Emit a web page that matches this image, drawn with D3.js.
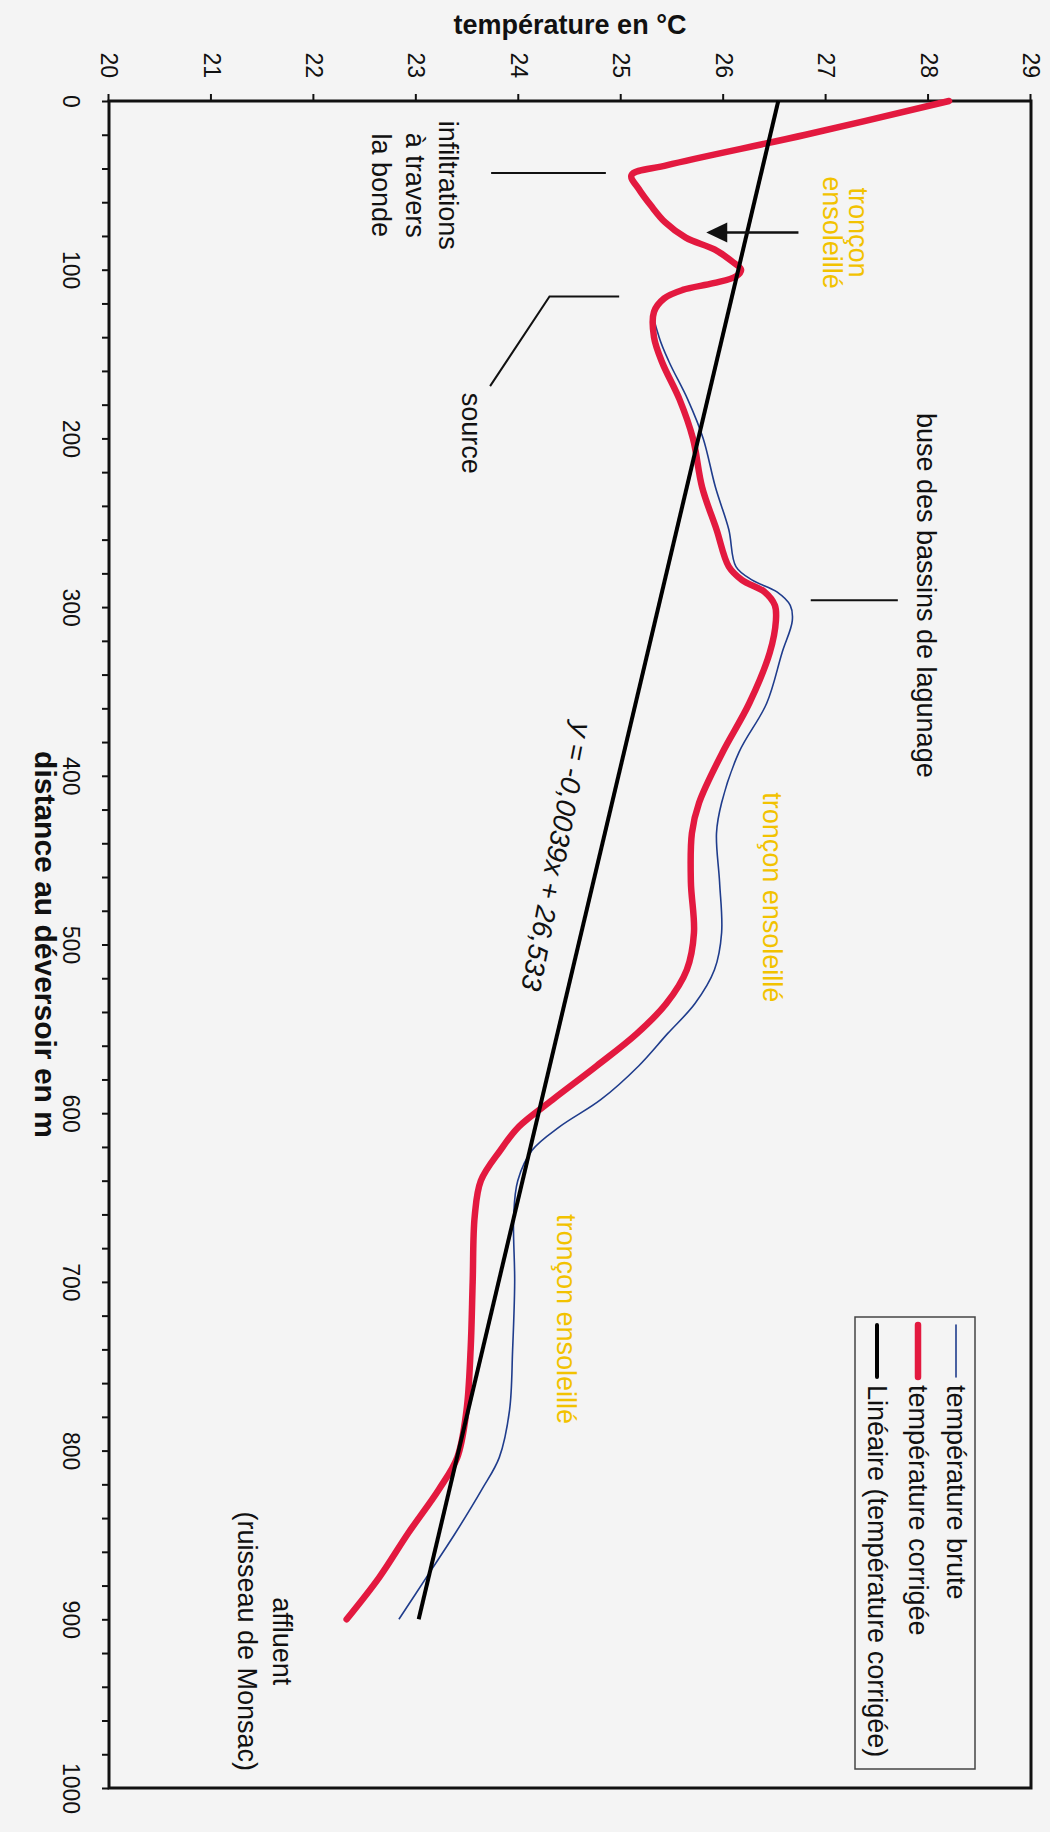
<!DOCTYPE html>
<html>
<head>
<meta charset="utf-8">
<script src="https://cdn.jsdelivr.net/npm/d3@7"></script>
<style>
  body { margin: 0; background: #f4f4f4; }
  svg { display: block; font-family: "Liberation Sans", Arial, sans-serif; }
</style>
</head>
<body>
<div class="chart"></div>
<script>
// distance au déversoir (m)
const distances = [0, 20, 38, 44, 52, 62, 72, 81, 88, 95, 100, 104, 108, 112, 117, 125,
  140, 155, 177, 200, 229, 254, 276, 284, 291, 299, 308, 327, 357, 386, 416, 434, 463,
  493, 515, 535, 553, 572, 592, 608, 622, 640, 661, 700, 740, 776, 804, 823, 849, 875, 900];

const tempBrute = [28.2, 26.8, 25.45, 25.1, 25.17, 25.29, 25.43, 25.63, 25.91, 26.08, 26.17,
  26.12, 25.9, 25.6, 25.42, 25.32, 25.37, 25.47, 25.65, 25.8, 25.92, 26.05, 26.12, 26.28,
  26.52, 26.65, 26.67, 26.57, 26.42, 26.15, 25.98, 25.93, 25.96, 25.98, 25.91, 25.72,
  25.45, 25.17, 24.8, 24.4, 24.13, 23.99, 23.95, 23.96, 23.94, 23.91, 23.81, 23.64,
  23.38, 23.1, 22.83];

const tempCorrigee = [28.2, 26.8, 25.45, 25.1, 25.17, 25.29, 25.43, 25.63, 25.91, 26.08, 26.17,
  26.12, 25.9, 25.6, 25.42, 25.32, 25.32, 25.4, 25.57, 25.7, 25.79, 25.93, 26.05, 26.18,
  26.4, 26.5, 26.51, 26.45, 26.25, 25.99, 25.76, 25.69, 25.68, 25.71, 25.64, 25.44,
  25.15, 24.76, 24.33, 24.0, 23.82, 23.63, 23.57, 23.55, 23.53, 23.49, 23.4, 23.22,
  22.92, 22.64, 22.32];

// courbe de tendance (température corrigée)
const trendSlope = -0.0039;
const trendIntercept = 26.533;
const trendDomain = [0, 900];

const tempTicks = [20, 21, 22, 23, 24, 25, 26, 27, 28, 29];
const distTicks = [0, 100, 200, 300, 400, 500, 600, 700, 800, 900, 1000];
const legendLabels = ["température brute", "température corrigée", "Linéaire (température corrigée)"];

const red = "#e3193f", blue = "#1f3c8c", gold = "#f2c200";

const width = 1687, height = 922;

const svg = d3.select(".chart")
    .append("svg")
    .attr("width", 1050)
    .attr("height", 1832);

svg.append("rect").attr("width", 1050).attr("height", 1832).attr("fill", "#f4f4f4");

// the page was printed sideways: draw a normal chart, then turn it a quarter clockwise
const g = svg.append("g")
    .attr("transform", "translate(1031,101) rotate(90)");

const x = d3.scaleLinear().domain([0, 1000]).range([0, width]);
const y = d3.scaleLinear().domain([20, 29]).range([height, 0]);

const xAxis = d3.axisBottom(x)
    .tickValues(d3.range(0, 1001, 20))
    .tickFormat(d => distTicks.includes(d) ? d : "")
    .tickSize(7)
    .tickPadding(23);

const yAxis = d3.axisLeft(y)
    .tickValues(tempTicks)
    .tickFormat(d3.format("d"))
    .tickSize(7)
    .tickPadding(16);

g.append("g")
    .attr("transform", `translate(0,${height})`)
    .call(xAxis)
    .call(a => a.select(".domain").remove())
    .call(a => a.selectAll(".tick line").attr("stroke", "#111").attr("stroke-width", 2))
    .call(a => a.selectAll("text").attr("font-size", 23).attr("fill", "#111").attr("font-family", null));

g.append("g")
    .call(yAxis)
    .call(a => a.select(".domain").remove())
    .call(a => a.selectAll(".tick line").attr("stroke", "#111").attr("stroke-width", 2))
    .call(a => a.selectAll("text").attr("font-size", 23).attr("fill", "#111").attr("font-family", null));

// axis titles
g.append("text")
    .text("température en °C")
    .attr("transform", `translate(-76,${y(24.5)}) rotate(-90)`)
    .attr("text-anchor", "middle")
    .attr("dy", "0.35em")
    .attr("font-size", 27)
    .attr("font-weight", "bold")
    .attr("fill", "#111");

g.append("text")
    .text("distance au déversoir en m")
    .attr("x", x(500))
    .attr("y", height + 74)
    .attr("text-anchor", "middle")
    .attr("font-size", 30)
    .attr("font-weight", "bold")
    .attr("fill", "#111");

// plot frame
g.append("rect")
    .attr("width", width)
    .attr("height", height)
    .attr("fill", "none")
    .attr("stroke", "#111")
    .attr("stroke-width", 3);

const brute = distances.map((d, i) => ({ d: d, t: tempBrute[i] }));
const corrigee = distances.map((d, i) => ({ d: d, t: tempCorrigee[i] }));
const trend = trendDomain.map(d => ({ d: d, t: trendIntercept + trendSlope * d }));

const line = d3.line()
    .x(d => x(d.d))
    .y(d => y(d.t))
    .curve(d3.curveCatmullRom.alpha(0.5));

g.append("path")
    .datum(brute)
    .attr("fill", "none")
    .attr("stroke", blue)
    .attr("stroke-width", 1.6)
    .attr("d", line);

g.append("path")
    .datum(corrigee)
    .attr("fill", "none")
    .attr("stroke", red)
    .attr("stroke-width", 6.5)
    .attr("stroke-linejoin", "round")
    .attr("stroke-linecap", "round")
    .attr("d", line);

g.append("path")
    .datum(trend)
    .attr("fill", "none")
    .attr("stroke", "#000")
    .attr("stroke-width", 4)
    .attr("d", d3.line().x(d => x(d.d)).y(d => y(d.t)));

// annotations
function note(lines, d, temps, color, size) {
    lines.forEach((s, i) => {
        g.append("text")
            .text(s)
            .attr("x", x(d))
            .attr("y", y(temps[i]))
            .attr("dy", "0.35em")
            .attr("text-anchor", "middle")
            .attr("font-size", size || 27)
            .attr("fill", color || "#111");
    });
}

function leader(points) {
    g.append("path")
        .attr("d", d3.line().x(p => x(p[0])).y(p => y(p[1]))(points))
        .attr("fill", "none")
        .attr("stroke", "#111")
        .attr("stroke-width", 2);
}

note(["infiltrations", "à travers", "la bonde"], 50, [23.31, 22.99, 22.66]);
leader([[42.7, 23.73], [42.7, 24.85]]);

note(["source"], 197, [23.54]);
leader([[169, 23.72], [115.9, 24.3], [115.9, 24.98]]);

note(["buse des bassins de lagunage"], 293, [27.98]);
leader([[296, 26.85], [296, 27.7]]);

note(["tronçon", "ensoleillé"], 78, [27.32, 27.06], gold);
note(["tronçon ensoleillé"], 472, [26.48], gold);
note(["tronçon ensoleillé"], 722, [24.47], gold);

note(["affluent", "(ruisseau de Monsac)"], 913, [21.69, 21.35]);

// arrow towards the first warm section
const ax = x(78), ay0 = y(26.73), ay1 = y(25.83);
g.append("line")
    .attr("x1", ax).attr("x2", ax)
    .attr("y1", ay0).attr("y2", ay1 - 18)
    .attr("stroke", "#111")
    .attr("stroke-width", 2.5);
g.append("path")
    .attr("d", `M${ax},${ay1} L${ax - 10},${ay1 - 21} L${ax + 10},${ay1 - 21} Z`)
    .attr("fill", "#111");

// trend equation
g.append("text")
    .text("y = -0,0039x + 26,533")
    .attr("transform", `translate(${x(448)},${y(24.37)}) rotate(11)`)
    .attr("text-anchor", "middle")
    .attr("dy", "0.35em")
    .attr("font-size", 28)
    .attr("font-style", "italic")
    .attr("fill", "#111");

// legend
const legend = g.append("g").attr("transform", "translate(1216,56)");
legend.append("rect")
    .attr("width", 452)
    .attr("height", 120)
    .attr("fill", "none")
    .attr("stroke", "#444")
    .attr("stroke-width", 1.5);

const legendStyles = [
    { color: blue, w: 1.6, cy: 19 },
    { color: red, w: 6.5, cy: 57 },
    { color: "#000", w: 4, cy: 98 }
];

legendStyles.forEach((s, i) => {
    legend.append("line")
        .attr("x1", 8).attr("x2", 60)
        .attr("y1", s.cy).attr("y2", s.cy)
        .attr("stroke", s.color)
        .attr("stroke-width", s.w)
        .attr("stroke-linecap", "round");
    legend.append("text")
        .text(legendLabels[i])
        .attr("x", 68)
        .attr("y", s.cy)
        .attr("dy", "0.35em")
        .attr("font-size", 27)
        .attr("fill", "#111");
});
</script>
</body>
</html>
